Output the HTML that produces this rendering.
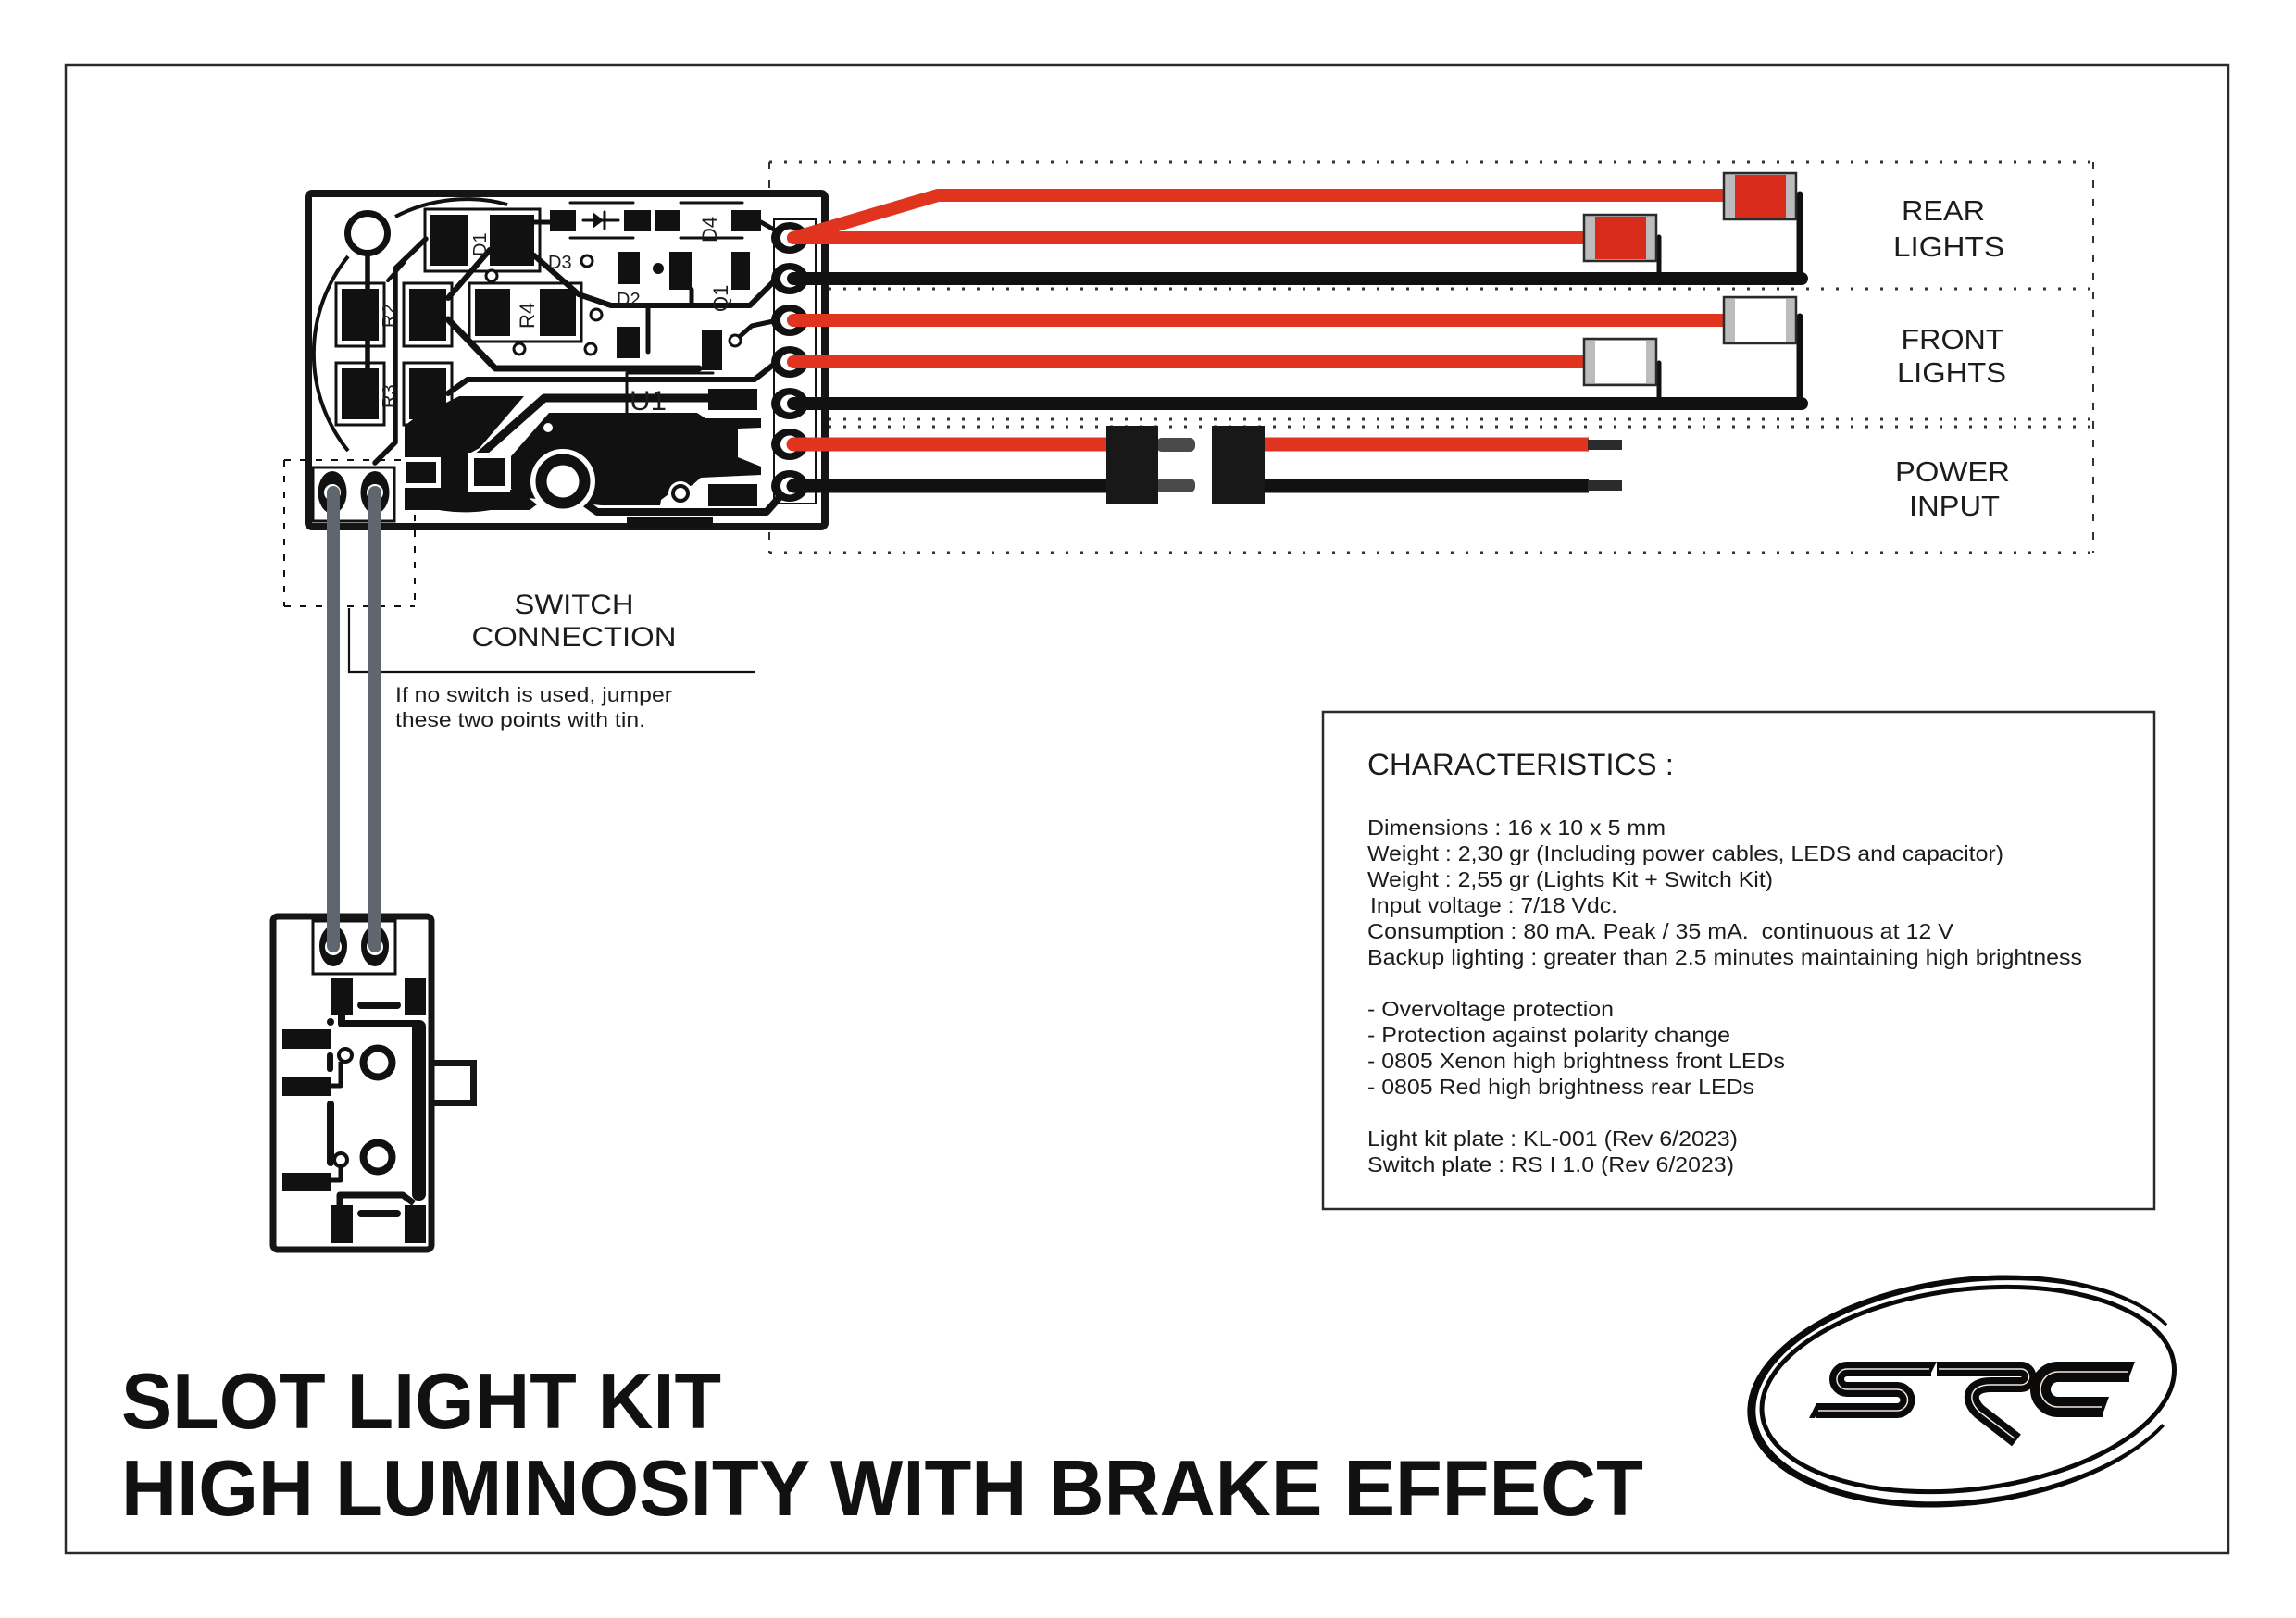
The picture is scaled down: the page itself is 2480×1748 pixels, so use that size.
<!DOCTYPE html>
<html><head><meta charset="utf-8"><style>
html,body{margin:0;padding:0;background:#fff;}
svg{display:block;}
text{font-family:"Liberation Sans",Arial,sans-serif;fill:#1c1c1c;}
</style></head><body>
<svg width="2480" height="1748" viewBox="0 0 2480 1748" xmlns="http://www.w3.org/2000/svg">
<rect width="2480" height="1748" fill="#fff"/>
<rect x="71" y="70" width="2336" height="1608" fill="none" stroke="#2a2a2a" stroke-width="2.5"/>

<!-- dotted group boxes -->
<g stroke="#333" fill="none">
<g stroke-width="3" stroke-dasharray="3 13">
<line x1="831" y1="175" x2="2262" y2="175"/>
<line x1="895" y1="312" x2="2262" y2="312"/>
<line x1="895" y1="453" x2="2262" y2="453"/>
<line x1="895" y1="461" x2="2262" y2="461"/>
<line x1="831" y1="597" x2="2262" y2="597"/>
</g>
<g stroke-width="2" stroke-dasharray="8 12">
<line x1="2261" y1="175" x2="2261" y2="597"/>
<line x1="831" y1="175" x2="831" y2="597"/>
</g>
</g>

<!-- main PCB -->
<rect x="333" y="209" width="558" height="360" rx="4" fill="#fff" stroke="#151515" stroke-width="8"/>
<g stroke="#111" stroke-width="2" fill="none" stroke-dasharray="7 10">
<line x1="307" y1="497" x2="445" y2="497"/>
<line x1="307" y1="497" x2="307" y2="655"/>
<line x1="448" y1="505" x2="448" y2="655"/>
<line x1="307" y1="655" x2="448" y2="655"/>
</g>
<g fill="none" stroke="#111" stroke-width="4">
<path d="M427,234 A167 167 0 0 1 548,221"/>
<path d="M376,487 A167 167 0 0 1 376,277"/>
<path d="M578,533 A167 167 0 0 1 456,545"/>
</g>
<circle cx="397" cy="252" r="21.5" fill="#fff" stroke="#111" stroke-width="7"/>

<g fill="none" stroke="#111" stroke-linecap="round" stroke-linejoin="round">
<path d="M397,274 L397,420" stroke-width="5.5"/>
<path d="M460,258 L427,290 L427,478 L405,500" stroke-width="5.5"/>
<path d="M436,284 L419,303" stroke-width="4"/>
<path d="M529,270 L484,322" stroke-width="6"/>
<path d="M484,345 L535,398 L755,398" stroke-width="7"/>
<path d="M577,276 L625,318 L660,330 L810,330 L838,302" stroke-width="6"/>
<path d="M484,425 L505,410 L815,410 L838,392" stroke-width="6"/>
<path d="M822,240 L850,256" stroke-width="5"/>
<path d="M747,313 L747,330" stroke-width="5"/>
<path d="M577,240 L594,240" stroke-width="5"/>
<path d="M518,492 L588,430 L770,430" stroke-width="9"/>
<path d="M628,541 L645,553 L828,553 L850,528" stroke-width="8"/>
<path d="M794,368 L812,352 L840,346" stroke-width="5"/>
<path d="M700,330 L700,380" stroke-width="5"/>
<path d="M630,238 L668,238" stroke-width="3"/>
<path d="M653,229 L653,247" stroke-width="3"/>
<path d="M616,219 L684,219 M616,257 L684,257 M735,219 L802,219 M735,257 L802,257" stroke-width="3"/>
<path d="M677,403 L770,403 M677,403 L677,446" stroke-width="3"/>
</g>
<polygon points="640,229 640,247 652,238" fill="#111"/>

<!-- pads -->
<g fill="#111">
<rect x="369" y="312" width="40" height="56"/>
<rect x="442" y="312" width="40" height="56"/>
<rect x="369" y="398" width="40" height="55"/>
<rect x="442" y="398" width="40" height="55"/>
<rect x="464" y="232" width="42" height="55"/>
<rect x="529" y="232" width="48" height="55"/>
<rect x="513" y="312" width="38" height="51"/>
<rect x="583" y="312" width="39" height="51"/>
<rect x="594" y="227" width="28" height="23"/>
<rect x="674" y="227" width="29" height="23"/>
<rect x="707" y="227" width="28" height="23"/>
<rect x="790" y="227" width="32" height="23"/>
<rect x="668" y="272" width="23" height="35"/>
<rect x="723" y="272" width="24" height="41"/>
<rect x="790" y="272" width="20" height="41"/>
<rect x="666" y="353" width="25" height="34"/>
<rect x="758" y="357" width="22" height="43"/>
<rect x="765" y="420" width="53" height="23"/>
<circle cx="711" cy="290" r="6"/>
</g>
<g fill="none" stroke="#111" stroke-width="3">
<rect x="363" y="306" width="52" height="68"/>
<rect x="436" y="306" width="52" height="68"/>
<rect x="363" y="392" width="52" height="67"/>
<rect x="436" y="392" width="52" height="67"/>
<rect x="459" y="226" width="124" height="67"/>
<rect x="507" y="306" width="121" height="63"/>
</g>

<!-- ground areas -->
<polygon fill="#111" points="437,551 437,460 455,446 478,437 496,428 566,428 518,484 505,491 505,529 560,529 580,545 572,551"/>
<polygon fill="#111" points="593,446 753,446 762,452 822,452 822,462 797,463 797,494 822,504 822,513 757,516 748,524 722,534 714,540 713,546 650,546 560,537 552,528 552,493"/>
<rect x="433" y="494" width="43" height="33" fill="#fff"/>
<rect x="439" y="499" width="32" height="23" fill="#111"/>
<rect x="506" y="489" width="45" height="43" fill="#fff"/>
<rect x="512" y="495" width="33" height="30" fill="#111"/>
<circle cx="608" cy="520" r="35" fill="#fff"/>
<circle cx="608" cy="520" r="23.5" fill="#fff" stroke="#111" stroke-width="12"/>
<circle cx="592" cy="462" r="5" fill="#fff"/>
<circle cx="735" cy="533" r="13" fill="#fff"/>
<circle cx="735" cy="533" r="8" fill="#fff" stroke="#111" stroke-width="4"/>
<rect x="765" y="523" width="53" height="24" fill="#111"/>
<rect x="677" y="558" width="93" height="12" fill="#111"/>

<!-- vias -->
<g fill="#fff" stroke="#111" stroke-width="3">
<circle cx="531" cy="298" r="6"/>
<circle cx="561" cy="377" r="6"/>
<circle cx="638" cy="377" r="6"/>
<circle cx="644" cy="340" r="6"/>
<circle cx="794" cy="368" r="6"/>
<circle cx="634" cy="282" r="6"/>
</g>

<!-- silkscreen labels -->
<g font-size="20">
<text transform="translate(427,354) rotate(-90)">R2</text>
<text transform="translate(427,441) rotate(-90)">R3</text>
<text transform="translate(525,277) rotate(-90)">D1</text>
<text transform="translate(577,355) rotate(-90)" font-size="22">R4</text>
<text x="592" y="290">D3</text>
<text x="666" y="330">D2</text>
<text transform="translate(786,337) rotate(-90)" font-size="22">Q1</text>
<text transform="translate(774,262) rotate(-90)" font-size="22">D4</text>
<text x="680" y="443" font-size="30" textLength="40" lengthAdjust="spacingAndGlyphs">U1</text>
</g>

<!-- connector pads column -->
<rect x="836" y="237" width="45" height="307" fill="none" stroke="#111" stroke-width="2"/>
<g>
<ellipse cx="853" cy="257" rx="20" ry="17" fill="#111"/><ellipse cx="853" cy="257" rx="10" ry="9.5" fill="#fff"/>
<ellipse cx="853" cy="301" rx="20" ry="17" fill="#111"/><ellipse cx="853" cy="301" rx="10" ry="9.5" fill="#fff"/>
<ellipse cx="853" cy="346" rx="20" ry="17" fill="#111"/><ellipse cx="853" cy="346" rx="10" ry="9.5" fill="#fff"/>
<ellipse cx="853" cy="391" rx="20" ry="17" fill="#111"/><ellipse cx="853" cy="391" rx="10" ry="9.5" fill="#fff"/>
<ellipse cx="853" cy="436" rx="20" ry="17" fill="#111"/><ellipse cx="853" cy="436" rx="10" ry="9.5" fill="#fff"/>
<ellipse cx="853" cy="480" rx="20" ry="17" fill="#111"/><ellipse cx="853" cy="480" rx="10" ry="9.5" fill="#fff"/>
<ellipse cx="853" cy="525" rx="20" ry="17" fill="#111"/><ellipse cx="853" cy="525" rx="10" ry="9.5" fill="#fff"/>
</g>

<!-- switch pads on PCB -->
<rect x="338" y="505" width="88" height="58" fill="none" stroke="#111" stroke-width="3"/>
<ellipse cx="359" cy="532" rx="15.5" ry="23" fill="#111"/>
<ellipse cx="405" cy="532" rx="15.5" ry="23" fill="#111"/>
<circle cx="359" cy="532" r="9" fill="#fff"/>
<circle cx="405" cy="532" r="9" fill="#fff"/>

<!-- wires -->
<g fill="none" stroke-linecap="round" stroke-linejoin="round">
<path d="M857,257 L1013,211 L1866,211" stroke="#e1341e" stroke-width="14"/>
<path d="M857,257 L1714,257" stroke="#e1341e" stroke-width="14"/>
<path d="M857,346 L1866,346" stroke="#e1341e" stroke-width="14"/>
<path d="M857,391 L1714,391" stroke="#e1341e" stroke-width="14"/>
<path d="M857,480 L1200,480" stroke="#e1341e" stroke-width="15"/>
<path d="M1360,480 L1716,480" stroke="#e1341e" stroke-width="15" stroke-linecap="butt"/>
<path d="M857,301 L1946,301" stroke="#111" stroke-width="14"/>
<path d="M857,436 L1946,436" stroke="#111" stroke-width="14"/>
<path d="M857,525 L1200,525" stroke="#111" stroke-width="15"/>
<path d="M1360,525 L1716,525" stroke="#111" stroke-width="15" stroke-linecap="butt"/>
<path d="M1944,301 L1944,210" stroke="#111" stroke-width="7"/>
<path d="M1792,301 L1792,256" stroke="#111" stroke-width="5"/>
<path d="M1944,436 L1944,342" stroke="#111" stroke-width="7"/>
<path d="M1792,436 L1792,392" stroke="#111" stroke-width="5"/>
</g>

<!-- LEDs -->
<rect x="1862" y="187" width="78" height="50" fill="#bcbcbc" stroke="#2a2a2a" stroke-width="2.5"/>
<rect x="1874" y="189" width="55" height="46" fill="#d92b1c"/>
<rect x="1711" y="232" width="78" height="50" fill="#bcbcbc" stroke="#2a2a2a" stroke-width="2.5"/>
<rect x="1723" y="234" width="55" height="46" fill="#d92b1c"/>
<rect x="1862" y="321" width="78" height="50" fill="#bcbcbc" stroke="#2a2a2a" stroke-width="2.5"/>
<rect x="1874" y="323" width="55" height="46" fill="#fff"/>
<rect x="1711" y="366" width="78" height="50" fill="#bcbcbc" stroke="#2a2a2a" stroke-width="2.5"/>
<rect x="1723" y="368" width="55" height="46" fill="#fff"/>

<!-- power connector -->
<rect x="1249" y="473" width="42" height="15" rx="6" fill="#4a4a4a"/>
<rect x="1249" y="517" width="42" height="15" rx="6" fill="#4a4a4a"/>
<rect x="1195" y="460" width="56" height="85" fill="#181818"/>
<rect x="1309" y="460" width="57" height="85" fill="#181818"/>
<rect x="1715" y="475" width="37" height="11" fill="#2b2b2b"/>
<rect x="1715" y="519" width="37" height="11" fill="#2b2b2b"/>

<!-- switch plate -->
<rect x="465.5" y="1148.5" width="46" height="43" fill="#fff" stroke="#151515" stroke-width="7"/>
<rect x="295" y="990" width="171" height="360" rx="5" fill="#fff" stroke="#151515" stroke-width="7"/>
<rect x="338" y="995" width="89" height="57" fill="none" stroke="#111" stroke-width="3"/>
<ellipse cx="360" cy="1022" rx="15" ry="22" fill="#111"/>
<ellipse cx="405" cy="1022" rx="15" ry="22" fill="#111"/>
<circle cx="360" cy="1023" r="9" fill="#fff"/>
<circle cx="405" cy="1023" r="9" fill="#fff"/>
<g fill="#111">
<rect x="357" y="1057" width="24" height="40"/>
<rect x="437" y="1057" width="23" height="40"/>
<rect x="386" y="1082" width="47" height="8" rx="4"/>
<circle cx="357" cy="1104" r="4"/>
<rect x="445" y="1102" width="15" height="195" rx="7"/>
<rect x="305" y="1112" width="52" height="21"/>
<rect x="305" y="1163" width="52" height="21"/>
<rect x="305" y="1267" width="52" height="20"/>
<rect x="353" y="1137" width="7" height="21" rx="3"/>
<rect x="353" y="1189" width="8" height="71" rx="4"/>
<rect x="357" y="1302" width="24" height="41"/>
<rect x="437" y="1302" width="23" height="41"/>
<rect x="386" y="1307" width="47" height="8" rx="4"/>
</g>
<g fill="none" stroke="#111" stroke-linejoin="round">
<path d="M369,1097 L369,1106 L452,1106" stroke-width="8"/>
<path d="M357,1173 L368,1173 L368,1147" stroke-width="5"/>
<path d="M368,1260 L368,1275 L357,1275" stroke-width="5"/>
<path d="M367,1303 L367,1291 L435,1291 L447,1300" stroke-width="7"/>
</g>
<g fill="#fff" stroke="#111">
<circle cx="373" cy="1140" r="7" stroke-width="4"/>
<circle cx="368" cy="1253" r="7" stroke-width="4"/>
<circle cx="408" cy="1148" r="15.5" stroke-width="8"/>
<circle cx="408" cy="1250" r="15.5" stroke-width="8"/>
</g>

<!-- leader line -->
<path d="M377,657 L377,726 L815,726" fill="none" stroke="#111" stroke-width="2.2"/>

<!-- gray switch wires -->
<path d="M360,532 L360,1022 M405,532 L405,1022" stroke="#5f666d" stroke-width="14" stroke-linecap="round" fill="none"/>

<!-- labels -->
<g font-size="31" text-anchor="middle">
<text x="2099" y="238" textLength="90" lengthAdjust="spacingAndGlyphs">REAR</text>
<text x="2105" y="277" textLength="120" lengthAdjust="spacingAndGlyphs">LIGHTS</text>
<text x="2109" y="377" textLength="111" lengthAdjust="spacingAndGlyphs">FRONT</text>
<text x="2108" y="413" textLength="118" lengthAdjust="spacingAndGlyphs">LIGHTS</text>
<text x="2109" y="520" textLength="124" lengthAdjust="spacingAndGlyphs">POWER</text>
<text x="2111" y="557" textLength="98" lengthAdjust="spacingAndGlyphs">INPUT</text>
<text x="620" y="663" font-size="30" textLength="129" lengthAdjust="spacingAndGlyphs">SWITCH</text>
<text x="620" y="698" font-size="30" textLength="221" lengthAdjust="spacingAndGlyphs">CONNECTION</text>
</g>
<text x="427" y="758" font-size="22" textLength="299" lengthAdjust="spacingAndGlyphs">If no switch is used, jumper</text>
<text x="427" y="785" font-size="22" textLength="270" lengthAdjust="spacingAndGlyphs">these two points with tin.</text>

<!-- characteristics -->
<rect x="1429" y="769" width="898" height="537" fill="none" stroke="#2a2a2a" stroke-width="2.5"/>
<text x="1477" y="837" font-size="32" textLength="331" lengthAdjust="spacingAndGlyphs">CHARACTERISTICS :</text>
<g font-size="23.5">
<text x="1477" y="902" textLength="322" lengthAdjust="spacingAndGlyphs">Dimensions : 16 x 10 x 5 mm</text>
<text x="1477" y="930" textLength="687" lengthAdjust="spacingAndGlyphs">Weight : 2,30 gr (Including power cables, LEDS and capacitor)</text>
<text x="1477" y="958" textLength="438" lengthAdjust="spacingAndGlyphs">Weight : 2,55 gr (Lights Kit + Switch Kit)</text>
<text x="1480" y="986" textLength="267" lengthAdjust="spacingAndGlyphs">Input voltage : 7/18 Vdc.</text>
<text x="1477" y="1014" textLength="633" lengthAdjust="spacingAndGlyphs">Consumption : 80 mA. Peak / 35 mA.&#160; continuous at 12 V</text>
<text x="1477" y="1042" textLength="772" lengthAdjust="spacingAndGlyphs">Backup lighting : greater than 2.5 minutes maintaining high brightness</text>
<text x="1477" y="1098" textLength="266" lengthAdjust="spacingAndGlyphs">- Overvoltage protection</text>
<text x="1477" y="1126" textLength="392" lengthAdjust="spacingAndGlyphs">- Protection against polarity change</text>
<text x="1477" y="1154" textLength="451" lengthAdjust="spacingAndGlyphs">- 0805 Xenon high brightness front LEDs</text>
<text x="1477" y="1182" textLength="418" lengthAdjust="spacingAndGlyphs">- 0805 Red high brightness rear LEDs</text>
<text x="1477" y="1238" textLength="400" lengthAdjust="spacingAndGlyphs">Light kit plate : KL-001 (Rev 6/2023)</text>
<text x="1477" y="1266" textLength="396" lengthAdjust="spacingAndGlyphs">Switch plate : RS I 1.0 (Rev 6/2023)</text>
</g>

<!-- title -->
<g font-size="85" font-weight="bold">
<text x="131" y="1543" textLength="648" lengthAdjust="spacingAndGlyphs" style="fill:#111">SLOT LIGHT KIT</text>
<text x="131" y="1637" textLength="1644" lengthAdjust="spacingAndGlyphs" style="fill:#111">HIGH LUMINOSITY WITH BRAKE EFFECT</text>
</g>

<!-- logo -->
<g transform="translate(2126,1503) rotate(-7)">
<path d="M222.5,-46.1 A240 123 0 1 0 205.7,63.4 L203.6,60.3 A234 117 0 1 1 220,-43.8 Z" fill="#0a0a0a"/>
<ellipse cx="0" cy="-2" rx="224" ry="108" fill="none" stroke="#0a0a0a" stroke-width="5"/>
</g>
<g fill="none" stroke-linejoin="round">
<g stroke="#0a0a0a" stroke-width="16">
<path d="M2086,1479 L1995,1479 A11 11 0 0 0 1995,1501 L2049,1501 A11.5 11.5 0 0 1 2049,1524 L1962,1524"/>
<path d="M2092,1479 L2183,1479 A8.5 8.5 0 0 1 2183,1496 L2150,1496 C2128,1496 2124,1512 2138,1525 L2178,1556"/>
</g>
<path d="M2300,1482 L2223,1482 A19 19 0 0 0 2223,1520 L2272,1520" stroke="#0a0a0a" stroke-width="22"/>
<g fill="#0a0a0a" stroke="none">
<polygon points="2086,1471 2092,1471 2084,1487 2078,1487"/>
<polygon points="1962,1516 1968,1516 1960,1532 1954,1532"/>
<polygon points="2300,1471 2306,1471 2298,1493 2292,1493"/>
<polygon points="2272,1509 2278,1509 2270,1531 2264,1531"/>
</g>
<g stroke="#f3e6dc" stroke-width="1.5">
<path d="M2084,1479 L1995,1479 A11 11 0 0 0 1995,1501 L2049,1501 A11.5 11.5 0 0 1 2049,1524 L1964,1524"/>
<path d="M2094,1479 L2183,1479 A8.5 8.5 0 0 1 2183,1496 L2150,1496 C2128,1496 2124,1512 2138,1525 L2176,1554"/>
<path d="M2298,1482 L2223,1482 A19 19 0 0 0 2223,1520 L2270,1520"/>
</g>
</g>
</svg>
</body></html>
